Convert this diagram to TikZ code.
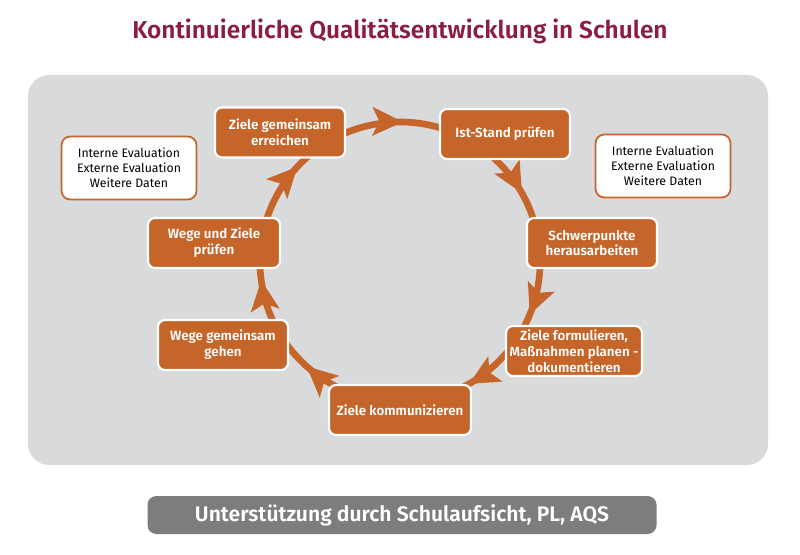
\documentclass[tikz,border=0pt]{standalone}
\usepackage{fontspec}
\setmainfont{Fira Sans}[BoldFont={Fira Sans SemiBold}]
\usetikzlibrary{arrows.meta,decorations.markings,positioning}
\definecolor{kqorange}{HTML}{C6652A}
\definecolor{kqgrey}{HTML}{D9DADC}
\definecolor{kqtitle}{HTML}{8C1D40}
\definecolor{kqbar}{HTML}{7D7D7D}

\begin{document}
\begin{tikzpicture}[
  stepbox/.style={rectangle, rounded corners=4pt, draw=white, line width=1.2pt,
    fill=kqorange, text=white, font=\bfseries\fontsize{7.6}{9}\selectfont,
    align=center, minimum width=2.6cm, minimum height=1cm, inner sep=2pt},
  infobox/.style={rectangle, rounded corners=5pt, draw=kqorange, line width=1pt,
    fill=white, font=\fontsize{7}{8.6}\selectfont, align=center,
    minimum width=2.7cm, minimum height=1.26cm},
  ring/.style={kqorange, line width=3.8pt},
  ringtip/.tip={Stealth[length=6mm, width=5.6mm, inset=1.3mm]}]
\useasboundingbox (0,0) rectangle (16,11.08);
% title
\node[font=\bfseries\fontsize{13.9}{16}\selectfont, text=kqtitle] (title) at (8,10.46)
  {Kontinuierliche Qualitätsentwicklung in Schulen};
% grey panel
\fill[kqgrey, rounded corners=12pt] (0.56,1.78) rectangle (15.36,9.58);
% cycle
\coordinate (ring) at (8,5.84);
\draw[ring, postaction={decorate}, decoration={markings,
    mark=at position 0.031 with {\arrow{ringtip}},
    mark=at position 0.196 with {\arrow{ringtip}},
    mark=at position 0.339 with {\arrow{ringtip}},
    mark=at position 0.446 with {\arrow{ringtip}},
    mark=at position 0.644 with {\arrow{ringtip}},
    mark=at position 0.757 with {\arrow{ringtip}},
    mark=at position 0.897 with {\arrow{ringtip}}}]
  (ring) ++(100:2.8) arc[start angle=100, end angle=-260, radius=2.8];
% steps
\node[stepbox] (reach) at (5.6,8.43) {Ziele gemeinsam\\erreichen};
\node[stepbox] (check) at (10.1,8.4) {Ist-Stand prüfen};
\node[stepbox] (focus) at (11.84,6.22) {Schwerpunkte\\herausarbeiten};
\node[stepbox, minimum width=2.64cm] (plan) at (11.48,4.06)
  {Ziele formulieren,\\Maßnahmen planen -\\dokumentieren};
\node[stepbox, minimum width=2.84cm] (talk) at (8,2.88) {Ziele kommunizieren};
\node[stepbox] (walk) at (4.46,4.18) {Wege gemeinsam\\gehen};
\node[stepbox, minimum width=2.64cm] (review) at (4.28,6.22) {Wege und Ziele\\prüfen};
% data sources
\node[infobox] (dataleft) at (2.58,7.72) {Interne Evaluation\\Externe Evaluation\\Weitere Daten};
\node[infobox] (dataright) at (13.26,7.76) {Interne Evaluation\\Externe Evaluation\\Weitere Daten};
% support bar
\node[rectangle, rounded corners=5pt, fill=kqbar, text=white,
  font=\bfseries\fontsize{12}{14}\selectfont, minimum width=10.18cm, minimum height=0.76cm]
  (support) at (8.04,0.78) {Unterstützung durch Schulaufsicht, PL, AQS};
\end{tikzpicture}
\end{document}
